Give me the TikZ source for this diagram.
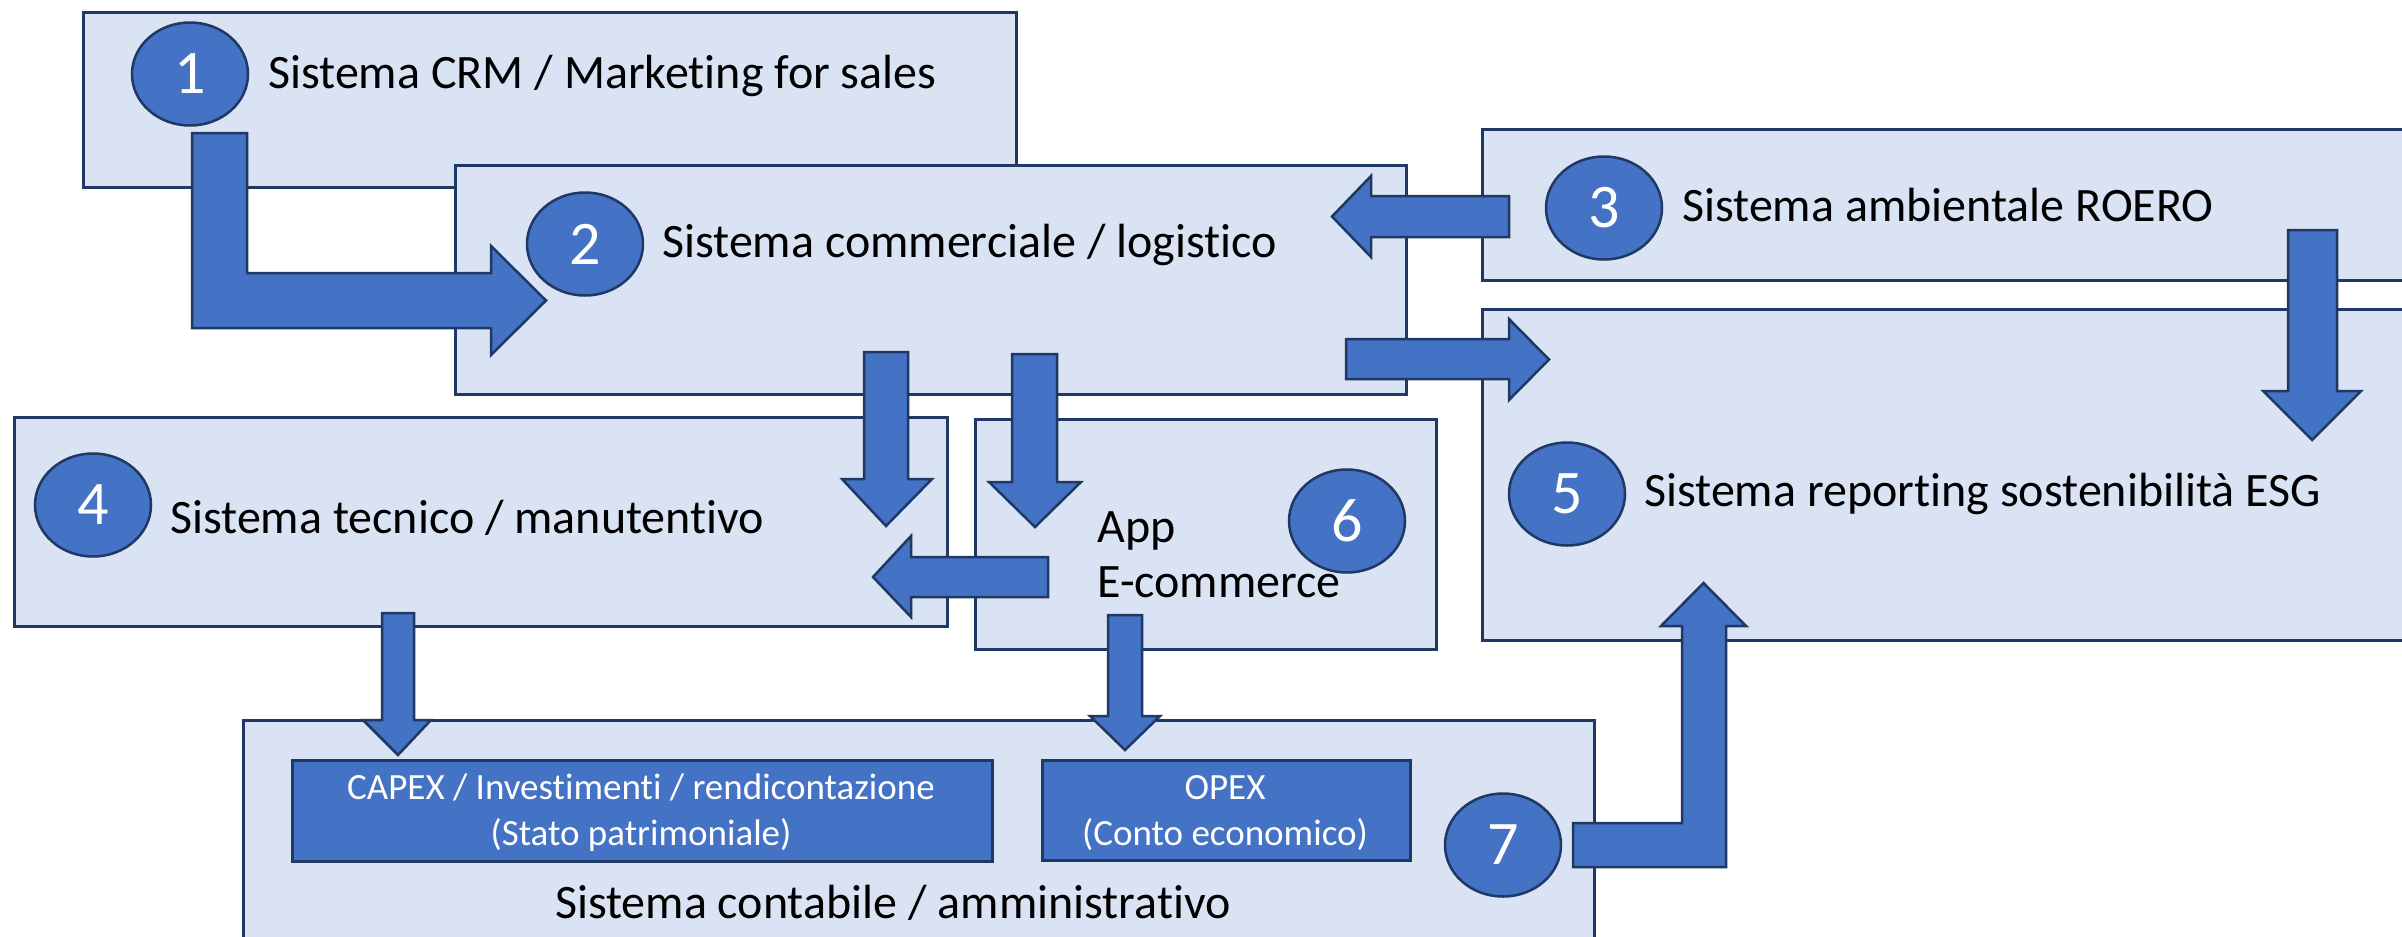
\documentclass[tikz,border=0pt]{standalone}
\usepackage{fontspec}
\setmainfont{Carlito}[Ligatures={NoCommon}]
\usetikzlibrary{shapes.geometric}
\definecolor{boxfill}{HTML}{DAE3F3}
\definecolor{navy}{HTML}{1F3864}
\definecolor{accent}{HTML}{4472C4}
\begin{document}
\begin{tikzpicture}[x=1pt,y=-1pt,
  sysbox/.style={draw=navy, fill=boxfill, line width=2.5pt, anchor=north west, inner sep=0},
  subbox/.style={draw=navy, fill=accent, line width=2.5pt, anchor=north west, inner sep=0},
  blockarrow/.style={draw=navy, fill=accent, line width=2.5pt, line join=miter},
  numcirc/.style={ellipse, draw=navy, fill=accent, line width=2.5pt, minimum width=116pt, minimum height=103pt, inner sep=0, text=white, font=\fontsize{62}{62}\selectfont},
  lbl/.style={anchor=base west, inner sep=0, font=\fontsize{48}{56}\selectfont},
  sublbl/.style={anchor=base, inner sep=0, text=white, font=\fontsize{37}{44}\selectfont}]
\useasboundingbox (0,0) rectangle (2402,937);
\fill[white] (0,0) rectangle (2402,937);

% boxes
\node[sysbox, minimum width=933pt, minimum height=175pt] (b1) at (82,11) {};
\node[sysbox, minimum width=951pt, minimum height=229pt] (b2) at (454,164) {};
% arrow 1 -> 2
\draw[blockarrow] (192,133) -- (247,133) -- (247,273) -- (491,273) -- (491,246) -- (546,300.5) -- (491,355) -- (491,328) -- (192,328) -- cycle;
\node[sysbox, minimum width=949pt, minimum height=151pt] (b3) at (1481,128) {};
\node[sysbox, minimum width=949pt, minimum height=331pt] (b5) at (1481,308) {};
\node[sysbox, minimum width=933pt, minimum height=209pt] (b4) at (13,416) {};
\node[sysbox, minimum width=461pt, minimum height=230pt] (b6) at (974,418) {};
\node[sysbox, minimum width=1351pt, minimum height=240pt] (b7) at (242,719) {};
\node[subbox, minimum width=700pt, minimum height=101pt] (capex) at (291,759) {};
\node[subbox, minimum width=368pt, minimum height=100pt] (opex) at (1041,759) {};

% arrows
% 3 -> 2
\draw[blockarrow] (1509,196) -- (1371,196) -- (1371,176) -- (1332,216.5) -- (1371,257) -- (1371,237) -- (1509,237) -- cycle;
% 2 -> 5
\draw[blockarrow] (1346,339) -- (1509,339) -- (1509,319) -- (1549,359.5) -- (1509,400) -- (1509,379) -- (1346,379) -- cycle;
% 3 -> 5
\draw[blockarrow] (2288,230) -- (2337,230) -- (2337,391) -- (2361,391) -- (2312,440) -- (2263,391) -- (2288,391) -- cycle;
% 2 -> 4
\draw[blockarrow] (864,352) -- (908,352) -- (908,479) -- (932,479) -- (886,526) -- (842,479) -- (864,479) -- cycle;
% 2 -> 6
\draw[blockarrow] (1012,354) -- (1057,354) -- (1057,482) -- (1081,482) -- (1035,527) -- (989,482) -- (1012,482) -- cycle;
% 6 -> 4
\draw[blockarrow] (1048,557) -- (911,557) -- (911,536) -- (873,577) -- (911,617) -- (911,597) -- (1048,597) -- cycle;
% 4 -> capex
\draw[blockarrow] (382,613) -- (414,613) -- (414,720) -- (431,720) -- (398,755) -- (363,720) -- (382,720) -- cycle;
% 6 -> opex
\draw[blockarrow] (1108,615) -- (1142,615) -- (1142,716) -- (1160,716) -- (1125,750) -- (1090,716) -- (1108,716) -- cycle;
% 7 -> 5
\draw[blockarrow] (1573,823) -- (1682,823) -- (1682,626) -- (1661,626) -- (1703.5,583) -- (1746,626) -- (1726,626) -- (1726,867) -- (1573,867) -- cycle;

% numbered circles
\node[numcirc] (c1) at (190,74) {1};
\node[numcirc] (c2) at (585,244) {2};
\node[numcirc] (c3) at (1604,208) {3};
\node[numcirc] (c4) at (93,505) {4};
\node[numcirc] (c5) at (1567,494) {5};
\node[numcirc] (c6) at (1347,521) {6};
\node[numcirc] (c7) at (1503,845) {7};

% labels
\node[lbl] (t1) at (268,88) {Sistema CRM / Marketing for sales};
\node[lbl] (t2) at (662,257) {Sistema commerciale / logistico};
\node[lbl] (t3) at (1682,221) {Sistema ambientale ROERO};
\node[lbl] (t4) at (170,533) {Sistema tecnico / manutentivo};
\node[lbl] (t5) at (1644,506) {Sistema reporting sostenibilità ESG};
\node[lbl] (t6a) at (1097,542) {App};
\node[lbl] (t6b) at (1097,597) {E-commerce};
\node[lbl, anchor=base] (t7) at (893,918) {Sistema contabile / amministrativo};
\node[sublbl] (capex1) at (641,799) {CAPEX / Investimenti / rendicontazione};
\node[sublbl] (capex2) at (641,845) {(Stato patrimoniale)};
\node[sublbl] (opex1) at (1225,799) {OPEX};
\node[sublbl] (opex2) at (1225,845) {(Conto economico)};
\end{tikzpicture}
\end{document}
